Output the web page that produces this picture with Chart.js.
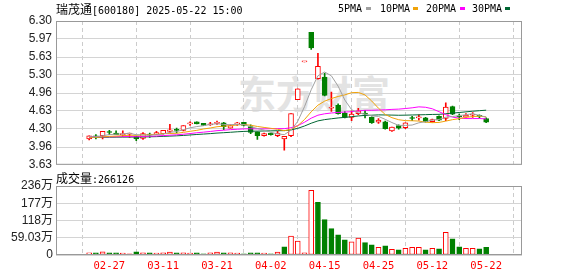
<!DOCTYPE html>
<html>
<head>
<meta charset="utf-8">
<script src="https://cdn.jsdelivr.net/npm/chart.js"></script>
<style>
  body { margin: 0; background: #fff; }
  #wrap { position: relative; width: 578px; height: 276px; overflow: hidden; }
  canvas { position: absolute; left: 0; }
  #priceChart { top: 0; }
  #volChart { top: 172px; }
  .txt { position: absolute; white-space: nowrap; color: #000; font: 10px 'DejaVu Sans Mono', monospace; line-height: 12px; }
  .cjk { font: 12px 'Noto Sans CJK SC', sans-serif; line-height: 12px; }
  .mark { position: absolute; width: 5px; height: 3px; top: 7px; }
  #wm { position: absolute; left: 238px; top: 64px; font: bold 38px 'Noto Sans CJK SC', sans-serif; color: #e3e3e3; }
</style>
</head>
<body>
<div id="wrap">
  <div id="wm">东方财富</div>
  <canvas id="priceChart" width="578" height="176"></canvas>
  <canvas id="volChart" width="578" height="104"></canvas>
  <div class="txt" style="left:56px; top:3px;"><span class="cjk">瑞茂通</span>[600180] 2025-05-22 15:00</div>
  <div class="txt" style="left:338px; top:3px;">5PMA</div>
  <div class="mark" style="left:366px; background:#a0a0a0;"></div>
  <div class="txt" style="left:380px; top:3px;">10PMA</div>
  <div class="mark" style="left:413px; background:#f0a30a;"></div>
  <div class="txt" style="left:426px; top:3px;">20PMA</div>
  <div class="mark" style="left:460px; background:#ff00ff;"></div>
  <div class="txt" style="left:472px; top:3px;">30PMA</div>
  <div class="mark" style="left:505px; background:#006633;"></div>
  <div class="txt" style="left:56px; top:172px;"><span class="cjk">成交量</span>:266126</div>
</div>
<script>
const dates = ['02-24','02-25','02-26','02-27','02-28','03-03','03-04','03-05','03-06','03-07',
  '03-10','03-11','03-12','03-13','03-14','03-17','03-18','03-19','03-20','03-21',
  '03-24','03-25','03-26','03-27','03-28','03-31','04-01','04-02','04-03','04-07',
  '04-08','04-09','04-10','04-11','04-14','04-15','04-16','04-17','04-18','04-21',
  '04-22','04-23','04-24','04-25','04-28','04-29','04-30','05-06','05-07','05-08',
  '05-09','05-12','05-13','05-14','05-15','05-16','05-19','05-20','05-21','05-22'];

const openP = [4.11,4.16,4.17,4.24,4.22,4.19,4.20,4.16,4.12,4.19,
  4.19,4.21,4.25,4.28,4.27,4.39,4.43,4.40,4.37,4.40,
  4.41,4.31,4.39,4.42,4.34,4.24,4.17,4.22,4.17,4.11,
  4.17,4.84,5.54,6.09,5.23,5.26,4.68,4.74,4.59,4.51,
  4.58,4.58,4.51,4.42,4.43,4.26,4.36,4.32,4.50,4.50,
  4.50,4.43,4.53,4.49,4.71,4.53,4.52,4.55,4.54,4.49];
const highP = [4.17,4.19,4.25,4.27,4.26,4.26,4.22,4.16,4.23,4.22,
  4.25,4.27,4.38,4.31,4.36,4.43,4.43,4.40,4.42,4.44,
  4.42,4.37,4.42,4.42,4.37,4.24,4.22,4.22,4.25,4.16,
  4.58,5.04,5.54,6.09,5.70,5.33,4.98,4.76,4.62,4.63,
  4.68,4.64,4.52,4.49,4.44,4.33,4.37,4.41,4.53,4.56,
  4.51,4.48,4.54,4.78,4.72,4.57,4.58,4.60,4.56,4.50];
const lowP = [4.09,4.11,4.11,4.19,4.19,4.15,4.14,4.08,4.10,4.14,
  4.19,4.20,4.22,4.22,4.26,4.36,4.39,4.36,4.36,4.38,
  4.28,4.31,4.36,4.35,4.21,4.10,4.16,4.18,4.15,3.90,
  4.15,4.84,5.54,5.77,5.22,4.91,4.62,4.57,4.50,4.45,
  4.56,4.50,4.40,4.40,4.29,4.25,4.29,4.30,4.45,4.46,
  4.42,4.42,4.45,4.45,4.56,4.47,4.51,4.51,4.50,4.41];
const closeP = [4.17,4.15,4.25,4.23,4.19,4.20,4.21,4.11,4.21,4.18,
  4.23,4.27,4.28,4.27,4.36,4.40,4.39,4.36,4.39,4.42,
  4.34,4.36,4.40,4.36,4.23,4.17,4.21,4.19,4.22,4.16,
  4.58,5.04,5.54,5.80,5.46,4.92,4.69,4.58,4.51,4.57,
  4.63,4.57,4.41,4.46,4.30,4.33,4.31,4.41,4.49,4.51,
  4.43,4.47,4.46,4.70,4.57,4.52,4.55,4.56,4.53,4.42];

const volume = [72000,70000,105000,72000,70000,68000,36000,108000,70000,72000,
  68000,70000,100000,72000,70000,68000,72000,38000,70000,102000,
  72000,70000,68000,36000,70000,72000,68000,38000,100000,276000,
  645000,480000,70000,2210000,1800000,1210000,900000,690000,520000,450000,
  576000,426000,345000,265000,310000,196000,173000,230000,265000,265000,
  173000,230000,207000,780000,550000,276000,230000,230000,207000,266126];

const ma5 = [4.15,4.15,4.17,4.19,4.198,4.204,4.216,4.188,4.184,4.182,
  4.188,4.20,4.234,4.246,4.282,4.316,4.34,4.356,4.38,4.392,
  4.38,4.374,4.382,4.376,4.338,4.304,4.274,4.232,4.204,4.19,
  4.272,4.438,4.708,5.024,5.284,5.352,5.282,5.09,4.832,4.654,
  4.596,4.572,4.538,4.528,4.474,4.414,4.362,4.362,4.368,4.41,
  4.43,4.462,4.472,4.514,4.526,4.544,4.56,4.58,4.546,4.516];
const ma10 = [4.14,4.14,4.148,4.158,4.164,4.171,4.179,4.177,4.185,4.19,
  4.196,4.208,4.211,4.215,4.232,4.252,4.27,4.295,4.313,4.337,
  4.348,4.357,4.369,4.378,4.365,4.342,4.324,4.307,4.29,4.264,
  4.288,4.356,4.47,4.614,4.737,4.812,4.86,4.899,4.928,4.969,
  4.974,4.927,4.814,4.68,4.564,4.505,4.467,4.45,4.448,4.442,
  4.422,4.412,4.417,4.441,4.468,4.487,4.511,4.526,4.53,4.521];
const ma20 = [4.15,4.15,4.15,4.15,4.152,4.153,4.155,4.15,4.158,4.16,
  4.165,4.172,4.18,4.187,4.198,4.21,4.225,4.236,4.249,4.264,
  4.272,4.283,4.29,4.297,4.299,4.297,4.297,4.301,4.302,4.301,
  4.318,4.357,4.42,4.496,4.551,4.577,4.592,4.603,4.609,4.617,
  4.631,4.642,4.642,4.647,4.651,4.659,4.664,4.675,4.688,4.706,
  4.698,4.67,4.616,4.561,4.516,4.496,4.489,4.488,4.489,4.482];
const ma30 = [4.14,4.14,4.14,4.142,4.143,4.144,4.145,4.145,4.147,4.15,
  4.153,4.158,4.163,4.168,4.175,4.184,4.193,4.201,4.209,4.219,
  4.226,4.234,4.243,4.25,4.254,4.255,4.258,4.26,4.263,4.264,
  4.277,4.307,4.35,4.402,4.445,4.469,4.485,4.50,4.51,4.523,
  4.537,4.547,4.551,4.557,4.555,4.553,4.55,4.552,4.555,4.558,
  4.561,4.565,4.567,4.578,4.59,4.601,4.613,4.625,4.635,4.644];

const priceTicks = [3.63, 3.96, 4.30, 4.63, 4.96, 5.30, 5.63, 5.97, 6.30];
const volTicks = [0, 590300, 1180600, 1770900, 2361200];
const volTickLabels = ['0', '59.03万', '118万', '177万', '236万'];
const dateTickIdx = [3, 11, 19, 27, 35, 43, 51, 59];

const RED = '#ff0000', GREEN = '#008000';
const candleUp = dates.map((d, i) => closeP[i] >= openP[i]);
const volUp = dates.map((d, i) => i === 0 || closeP[i] >= closeP[i - 1]);

// grey frame round the plot area
const frame = {
  id: 'frame',
  afterDraw(chart) {
    const a = chart.chartArea, ctx = chart.ctx;
    ctx.save();
    ctx.strokeStyle = '#999';
    ctx.lineWidth = 1;
    ctx.strokeRect(a.left + 0.5, a.top + 0.5, a.right - a.left - 1, a.bottom - a.top - 1);
    ctx.restore();
  }
};

function xScale(showLabels) {
  return {
    type: 'linear', min: -0.6, max: 60,
    afterBuildTicks: s => { s.ticks = dateTickIdx.map(v => ({ value: v })); },
    afterFit: s => { s.height = showLabels ? 21 : 0; },
    grid: { color: '#cccccc', drawTicks: false },
    border: { display: false, dash: [4, 3] },
    ticks: {
      display: showLabels, color: RED, padding: 5, maxRotation: 0, autoSkip: false,
      font: { family: 'DejaVu Sans Mono', size: 10.5 },
      callback: v => dates[v]
    }
  };
}

const yFont = { family: "'Liberation Sans', 'Noto Sans CJK SC'", size: 12 };

const maLine = (vals, color) => ({
  type: 'line',
  data: vals.map((v, i) => ({ x: i, y: v })),
  borderColor: color, borderWidth: 1, pointRadius: 0, tension: 0, fill: false
});

new Chart(document.getElementById('priceChart'), {
  type: 'bar',
  data: {
    datasets: [
      maLine(ma5, '#a0a0a0'),
      maLine(ma10, '#f0a30a'),
      maLine(ma20, '#ff00ff'),
      maLine(ma30, '#006633'),
      {
        data: dates.map((d, i) => ({ x: i, y: [openP[i], closeP[i]] })),
        backgroundColor: candleUp.map(u => u ? '#ffffff' : GREEN),
        borderColor: candleUp.map(u => u ? RED : GREEN),
        borderWidth: 1, borderSkipped: false, barThickness: 5, minBarLength: 1, grouped: false
      },
      {
        data: dates.map((d, i) => ({ x: i, y: [lowP[i], highP[i]] })),
        backgroundColor: candleUp.map(u => u ? RED : GREEN),
        barThickness: 1, grouped: false
      }
    ]
  },
  options: {
    responsive: false,
    animation: false,
    layout: { padding: { top: 21, right: 56, bottom: 10, left: 0 } },
    plugins: { legend: { display: false }, tooltip: { enabled: false } },
    scales: {
      x: xScale(false),
      y: {
        min: 3.63, max: 6.30,
        afterBuildTicks: s => { s.ticks = priceTicks.map(v => ({ value: v })); },
        afterFit: s => { s.width = 56; },
        grid: { color: '#d4d4d4', drawTicks: false },
        border: { display: false },
        ticks: { padding: 4, color: '#222', font: yFont, autoSkip: false, callback: v => v.toFixed(2) }
      }
    }
  },
  plugins: [frame]
});

new Chart(document.getElementById('volChart'), {
  type: 'bar',
  data: {
    datasets: [{
      data: dates.map((d, i) => ({ x: i, y: volume[i] })),
      backgroundColor: volUp.map(u => u ? '#ffffff' : GREEN),
      borderColor: volUp.map(u => u ? RED : GREEN),
      borderWidth: 1, borderSkipped: false, barThickness: 5, grouped: false
    }]
  },
  options: {
    responsive: false,
    animation: false,
    layout: { padding: { top: 14, right: 56, bottom: 0, left: 0 } },
    plugins: { legend: { display: false }, tooltip: { enabled: false } },
    scales: {
      x: xScale(true),
      y: {
        min: 0, max: 2361200,
        afterBuildTicks: s => { s.ticks = volTicks.map(v => ({ value: v })); },
        afterFit: s => { s.width = 56; },
        grid: { color: '#d4d4d4', drawTicks: false },
        border: { display: false },
        ticks: { padding: 3, color: '#222', font: yFont, autoSkip: false, callback: (v, i) => volTickLabels[i] }
      }
    }
  },
  plugins: [frame]
});
</script>
</body>
</html>
